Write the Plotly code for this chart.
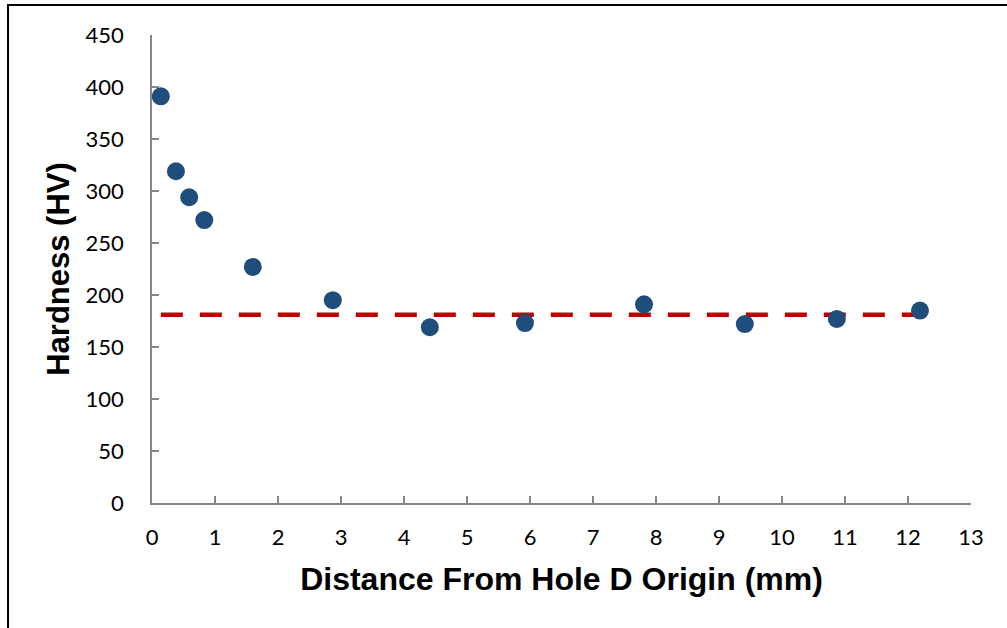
import plotly.graph_objects as go

distance_mm = [0.14, 0.38, 0.59, 0.83, 1.60, 2.87, 4.41, 5.92, 7.81, 9.41, 10.87, 12.19]
hardness_hv = [391, 319, 294, 272, 227, 195, 169, 173, 191, 172, 177, 185]
baseline_x = [0.14, 12.19]
baseline_hv = [181, 181]

fig = go.Figure()
fig.add_trace(go.Scatter(
    x=baseline_x, y=baseline_hv, mode="lines",
    line=dict(color="#C00000", width=4.5, dash="22px,17px"),
    showlegend=False, hoverinfo="skip"))
fig.add_trace(go.Scatter(
    x=distance_mm, y=hardness_hv, mode="markers",
    marker=dict(color="#1F4E7D", size=18, line=dict(width=0)),
    showlegend=False))

axis_common = dict(
    showline=True, linecolor="#868686", linewidth=1.5,
    ticks="inside", ticklen=7, tickcolor="#868686", tickwidth=1.5,
    showgrid=False, zeroline=False,
    tickfont=dict(family="Lato, Open Sans, sans-serif", size=22, color="black"),
)

fig.update_layout(
    width=1007, height=628,
    margin=dict(l=152, r=36, t=35, b=125),
    paper_bgcolor="white", plot_bgcolor="white",
    xaxis=dict(range=[0, 13], dtick=1, tick0=0,
               title=dict(text="Distance From Hole D Origin (mm)",
                          font=dict(family="Liberation Sans, Arial, sans-serif", size=32,
                                    color="black", weight="bold"),
                          standoff=18),
               ticklabelstandoff=14, **axis_common),
    yaxis=dict(range=[0, 450], dtick=50, tick0=0,
               title=dict(text="Hardness (HV)",
                          font=dict(family="Liberation Sans, Arial, sans-serif", size=31,
                                    color="black", weight="bold"),
                          standoff=7),
               ticklabelstandoff=22, **axis_common),
    shapes=[dict(type="rect", xref="paper", yref="paper",
                 x0=-0.1758, x1=1.08, y0=-0.35, y1=1.0641,
                 line=dict(color="black", width=2), fillcolor="rgba(0,0,0,0)", layer="below")],
)

fig.write_html("out.html", config={"displayModeBar": False},
               post_script="document.body.style.margin='0';")
